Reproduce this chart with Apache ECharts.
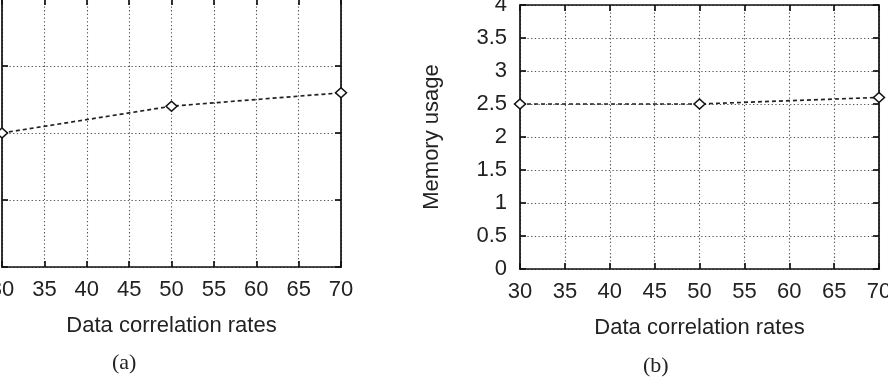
<!DOCTYPE html>
<html>
<head>
<meta charset="utf-8">
<script src="https://cdn.jsdelivr.net/npm/echarts@6/dist/echarts.min.js"></script>
<style>
html,body{margin:0;padding:0;background:#fff;}
#chart{width:888px;height:385px;}
</style>
</head>
<body>
<div id="chart"></div>
<script>
// ---- data ----
const correlationRates = [30, 50, 70];
const panelAValues = [2.0, 2.4, 2.6];
const memoryUsage = [2.5, 2.5, 2.6];
const xTitle = 'Data correlation rates';
const yTitleB = 'Memory usage';
const captions = ['(a)', '(b)'];

const FONT = 'Liberation Sans';
const txt = {fontFamily: FONT, fontSize: 22, color: '#222'};
const nameTxt = {fontFamily: FONT, fontSize: 22, color: '#222'};

function xAx(grid, pos) {
  const bottom = pos === 'bottom';
  return {
    type: 'value', gridIndex: grid, position: pos, min: 30, max: 70, interval: 5,
    name: bottom ? xTitle : '', nameLocation: 'middle', nameGap: 48,
    nameTextStyle: nameTxt,
    axisLine: {show: true, onZero: false, lineStyle: {color: '#111', width: 1.7}},
    axisTick: {show: true, inside: true, length: 6, lineStyle: {color: '#111', width: 1.7}},
    axisLabel: {show: bottom, margin: 12, hideOverlap: false, ...txt},
    splitLine: {show: bottom, lineStyle: {color: '#555', type: [1.3, 2.4], width: 1.1}}
  };
}
function yAx(grid, pos, max, interval, name) {
  const left = pos === 'left';
  return {
    type: 'value', gridIndex: grid, position: pos, min: 0, max: max, interval: interval,
    name: left ? name : '', nameLocation: 'middle', nameGap: 77, nameRotate: 90,
    nameTextStyle: nameTxt,
    axisLine: {show: true, onZero: false, lineStyle: {color: '#111', width: 1.7}},
    axisTick: {show: true, inside: true, length: 6, lineStyle: {color: '#111', width: 1.7}},
    axisLabel: {show: left, margin: 13, ...txt},
    splitLine: {show: left, lineStyle: {color: '#555', type: [1.3, 2.4], width: 1.1}}
  };
}
function lineSeries(xi, yi, vals) {
  return {
    type: 'line', xAxisIndex: xi, yAxisIndex: yi,
    data: correlationRates.map((x, i) => [x, vals[i]]),
    symbol: 'diamond', symbolSize: [11, 10], showSymbol: true,
    itemStyle: {color: '#fff', borderColor: '#111', borderWidth: 1.5},
    lineStyle: {color: '#222', width: 1.7, type: [4, 3]},
    clip: false, animation: false, z: 5
  };
}

const chart = echarts.init(document.getElementById('chart'), null, {renderer: 'canvas'});
chart.setOption({
  backgroundColor: '#fff',
  animation: false,
  grid: [
    {left: 2, right: 547, top: -1, bottom: 118, containLabel: false, outerBoundsMode: 'none'},
    {left: 520, right: 9, top: 5, bottom: 116, containLabel: false, outerBoundsMode: 'none'}
  ],
  xAxis: [xAx(0, 'bottom'), xAx(0, 'top'), xAx(1, 'bottom'), xAx(1, 'top')],
  yAxis: [yAx(0, 'left', 4, 1, ''), yAx(0, 'right', 4, 1, ''),
          yAx(1, 'left', 4, 0.5, yTitleB), yAx(1, 'right', 4, 0.5, '')],
  series: [lineSeries(0, 0, panelAValues), lineSeries(2, 2, memoryUsage)],
  graphic: [
    {type: 'text', left: 112, top: 352, style: {text: captions[0], font: '22px "Liberation Serif"', fill: '#222'}},
    {type: 'text', left: 643, top: 355, style: {text: captions[1], font: '22px "Liberation Serif"', fill: '#222'}}
  ]
});
</script>
</body>
</html>
